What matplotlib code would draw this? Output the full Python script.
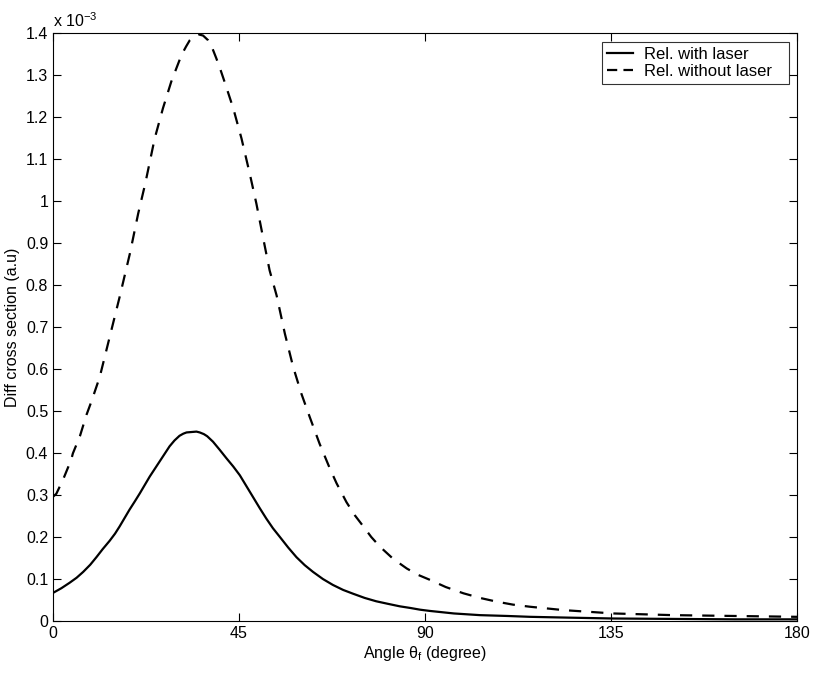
import numpy as np
import matplotlib
matplotlib.use("Agg")
import matplotlib.pyplot as plt
from matplotlib.lines import Line2D

plt.rcParams['font.family'] = ['Liberation Sans', 'DejaVu Sans']
plt.rcParams['mathtext.fontset'] = 'custom'
plt.rcParams['mathtext.rm'] = 'Liberation Sans'
plt.rcParams['mathtext.it'] = 'Liberation Sans'
plt.rcParams['mathtext.default'] = 'regular'

# values, y in units of 1e-3
angle_laser = [0, 2, 4, 5.7, 7.3, 9, 10.5, 12, 13.7, 15, 16.1, 17.3, 18.5, 19.8,
               21, 22.2, 23.4, 24.6, 25.8, 27, 28.2, 29.4, 30.6, 31.5, 32.3,
               33.5, 34.7, 35.5, 36.5, 37.3, 38.7, 40.3, 42, 43.6, 45.2, 46.8,
               48.4, 50, 51.6, 53.2, 54.9, 56.9, 58.9, 60.9, 62.9, 65.3, 67.7,
               70.2, 72.6, 75.4, 78.2, 81, 83.9, 86.5, 88.8, 91.2, 97, 103.3,
               110, 115.4, 125, 135.6, 150, 165, 180]
sigma_laser = [0.067, 0.078, 0.091, 0.103, 0.117, 0.134, 0.152, 0.171, 0.191,
               0.208, 0.225, 0.245, 0.265, 0.285, 0.304, 0.324, 0.344, 0.362,
               0.38, 0.398, 0.416, 0.43, 0.441, 0.446, 0.449, 0.45, 0.451, 0.449,
               0.445, 0.44, 0.427, 0.408, 0.387, 0.368, 0.347, 0.321, 0.295,
               0.269, 0.244, 0.221, 0.2, 0.175, 0.152, 0.133, 0.117, 0.1, 0.086,
               0.074, 0.065, 0.055, 0.047, 0.041, 0.035, 0.031, 0.027, 0.024,
               0.018, 0.014, 0.012, 0.010, 0.008, 0.006, 0.005, 0.004, 0.004]

angle_free = [0, 0.8, 2.4, 4.4, 4.8, 6.5, 8.1, 9.3, 11.3, 13.7, 16.1, 18.6, 20.6,
              22.3, 24.6, 26.6, 28.6, 30, 31.1, 32.2, 33.1, 34.1, 35.1, 36.3,
              37.5, 38.5, 39.5, 40.5, 41.5, 43.6, 45.6, 47.6, 49.2, 50.8, 52.4,
              54.1, 56.1, 58.1, 60.1, 62.1, 64.5, 66.9, 68.6, 71, 73, 75.1, 77,
              79.1, 82.3, 85.6, 88.3, 91.2, 95, 99.3, 103.3, 107.4, 111.3,
              115.4, 123.5, 135.6, 150, 165, 180]
sigma_free = [0.296, 0.303, 0.336, 0.384, 0.399, 0.44, 0.491, 0.523, 0.581,
              0.676, 0.771, 0.875, 0.97, 1.041, 1.149, 1.221, 1.284, 1.32, 1.348,
              1.368, 1.383, 1.392, 1.397, 1.394, 1.383, 1.365, 1.34, 1.313, 1.284,
              1.221, 1.149, 1.065, 0.994, 0.914, 0.835, 0.775, 0.684, 0.605,
              0.541, 0.486, 0.422, 0.365, 0.328, 0.283, 0.252, 0.225, 0.2, 0.177,
              0.148, 0.125, 0.11, 0.098, 0.081, 0.066, 0.055, 0.046, 0.039,
              0.034, 0.026, 0.018, 0.014, 0.012, 0.010]

xticks = [0, 45, 90, 135, 180]
yticks = [0, 0.1, 0.2, 0.3, 0.4, 0.5, 0.6, 0.7, 0.8, 0.9, 1.0, 1.1, 1.2, 1.3, 1.4]

fig = plt.figure(figsize=(8.17, 6.74), dpi=100)
ax = fig.add_axes([0.0649, 0.0786, 0.9106, 0.8724])

ax.plot(angle_laser, sigma_laser, color='black', lw=1.6)
ax.plot(angle_free, sigma_free, color='black', lw=1.6, ls=(0, (5.5, 4.5)))

ax.set_xlim(0, 180)
ax.set_ylim(0, 1.4)
ax.set_xticks(xticks)
ax.set_yticks(yticks)
ax.set_yticklabels(['%g' % v for v in yticks])
ax.tick_params(direction='in', top=True, right=True, labelsize=11.5,
               length=6, width=0.8)
for s in ax.spines.values():
    s.set_linewidth(0.8)

ax.set_xlabel(r'Angle $\theta_{f}$ (degree)', fontsize=11.5, labelpad=2)
ax.set_ylabel('Diff cross section (a.u)', fontsize=11.5, labelpad=4)
ax.text(0.0, 1.005, r'x 10$^{-3}$', transform=ax.transAxes, fontsize=11.5,
        ha='left', va='bottom')

# legend keys with a shorter dash so two dashes fit in the key
keys = [Line2D([], [], color='black', lw=1.6),
        Line2D([], [], color='black', lw=1.6, ls=(0, (4.6, 2.8)))]
leg = ax.legend(keys, ['Rel. with laser', 'Rel. without laser'],
                loc='upper left', mode='expand', fontsize=12, frameon=True,
                fancybox=False, handlelength=1.55, borderpad=0.3,
                labelspacing=0.1, handletextpad=0.65,
                bbox_to_anchor=(0.738, 0.80, 0.2513, 0.1847),
                borderaxespad=0)
leg.get_frame().set_edgecolor('black')
leg.get_frame().set_linewidth(0.8)

fig.savefig('out.png', dpi=100)
